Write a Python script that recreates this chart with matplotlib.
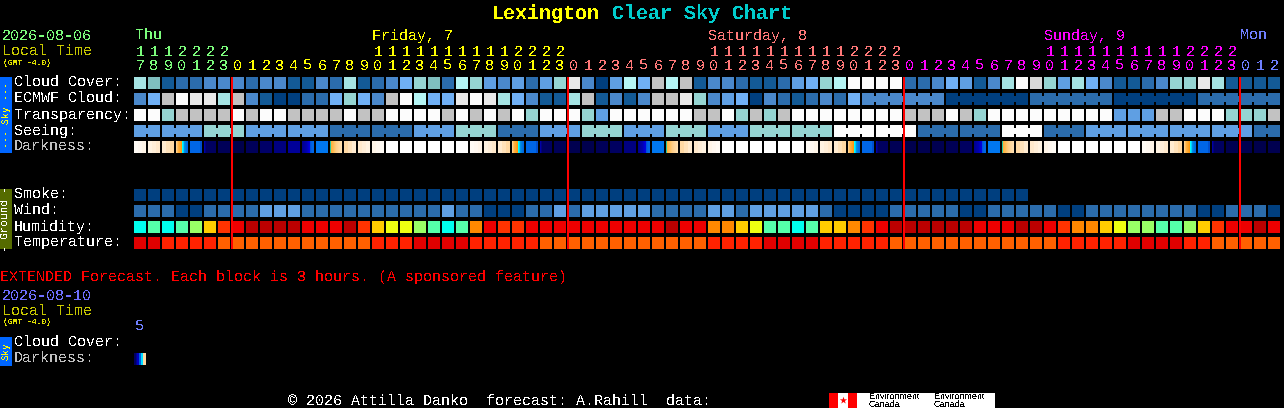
import matplotlib
matplotlib.use("Agg")
import matplotlib.pyplot as plt

plt.rcParams['text.antialiased'] = False
plt.rcParams['text.hinting'] = 'none'
plt.rcParams['font.family'] = ['Liberation Mono', 'DejaVu Sans Mono']

# ---------- data ----------
sky_palette = dict(a="#003F7F", b="#135A96", c="#2B6CAC", d="#4A88CB", e="#5F9FE3", f="#70B0F5",
                   g="#95D4D2", h="#7FBFBF", i="#A5E3E3", j="#B5F5F5", k="#C2C2C2", l="#D8D8D8",
                   m="#E9E9E9", n="#FCFCFC")
humidity_palette = dict(zip("012345678", ["#00FFEE", "#55FFAA", "#99FF66", "#EEFF11", "#FFCC00",
                                          "#FF8800", "#FF3300", "#EE0000", "#BB0000"]))
temperature_palette = dict(zip("012", ["#E00000", "#FF2200", "#FF6000"]))

cloud_cover = "ihbccdddcd" "dbbdcibcdf" "ghcjgedece" "gmdaejfkjk" "bddcbbcefg" "jnnnnccdfe" "bdinlgeifd" "bbcdggmibb" "bb"
ecmwf_cloud = "dfknmmikdb" "aaccfgfdkn" "jffmnmifdb" "bikbdbdkkm" "gdefadcbcd" "cfddddddaa" "aaaacccccc" "aaaaaacccc" "cc"
transparency = "nngkkkknkn" "nkkkknkknn" "nnknknkngn" "nngennnnnn" "kkngkgknnn" "nnnnnkkknk" "gnnnnnnnnn" "eeekknnngg" "gk"
seeing = "eeeeegggee" "eeeecccccc" "eeegggccce" "eegggeeegg" "geeegggggg" "nnnnnncccc" "ccnnncccee" "eeeeeeeeee" "cc"
smoke = "a" * 64
wind = "cccaacccce" "eecccccccc" "cceccaaacc" "eceeeeeccc" "ceeceeeeec" "aaaaccccca" "acccccaacc" "ccccccaacc" "ca"
humidity = "0101246788" "8877786433" "2101576677" "7777777787" "7554311014" "4567888888" "7778876554" "3221124677" "87"
temperature = "0011112222" "2222222111" "0000111112" "2222222222" "2111100001" "1111222222" "2222221111" "1000011222" "22"

cream_light = ["#FFFBF5", "#FFF8F0", "#FFF5E8"]
cream_mid = ["#FFF3E2", "#FFEED8", "#FFE9CC"]
cream_deep = ["#FFEBD0", "#FFE2BA", "#FFD9A4"]
white = ["#FFFFFF"]
dusk = ["#FFCF8A", "#FFBF60", "#FFB040", "#FFA830", "#FFA020", "#FF9810",
        "#00FFFF", "#00D0FF", "#0090E8", "#0080E0", "#0070E0", "#0066E0"]
dusk_blue = ["#0066E6"] * 10 + ["#0050D0"] * 2
dawn_blue = ["#0077F0"]
night_start = ["#0000A8", "#000080"] + ["#000060"] * 10
predawn = ["#000090", "#000098", "#0000A0", "#0000A8", "#0000B0", "#0000C0",
           "#0000D0", "#0000E0", "#0050E0", "#0060E0", "#0066E6", "#0066E6"]
dawn = ["#20C8A0", "#FFB040", "#FFB848", "#FFBC58", "#FFC468", "#FFCA78",
        "#FFCE88", "#FFD290", "#FFD698", "#FFD8A0", "#FFDCA8", "#FFE0B0"]
evening = [cream_light, cream_mid, cream_deep, dusk, dusk_blue, night_start]
morning = [predawn, dawn_blue, dawn, cream_deep[::-1], cream_mid[::-1], cream_light[::-1]]
night_1 = ["#000058", "#00004C", "#00005A", "#000068", "#000080", "#000099"]
night_2 = ["#000058", "#000050", "#00004E", "#000058", "#000060", "#000080"]
night_3 = ["#000055", "#00004E", "#000050", "#000050", "#000055", "#000060"]
night_4 = ["#000050", "#000050", "#00004C", "#000050"]
darkness = (evening + [[c] for c in night_1] + morning + [white] * 6
            + evening + [[c] for c in night_2] + morning + [white] * 6
            + evening + [[c] for c in night_3] + morning + [white] * 6
            + evening + [[c] for c in night_4])
extended_darkness = [["#000060", "#000060", "#000090", "#0000C0", "#0000C0", "#0060E0",
                      "#0060E0", "#00E0FF", "#00E0FF", "#FFD8A0", "#FFD8A0", "#FFD8A0"]]

hours = [17, 18, 19, 20, 21, 22, 23] + list(range(24)) * 3 + [0, 1, 2]
hour_colors = ["#7CFC7C"] * 7 + ["#FFFF00"] * 24 + ["#FF7878"] * 24 + ["#FF00FF"] * 24 + ["#6F7FFF"] * 3
day_labels = [(0, "Thu", "#7CFC7C", 1), (17, "Friday, 7", "#FFFF00", 0), (41, "Saturday, 8", "#FF7878", 0),
              (65, "Sunday, 9", "#FF00FF", 0), (79, "Mon", "#6F7FFF", 0)]
midnights = [7, 31, 55, 79]
row_labels = [("Cloud Cover:", 77, "#FFFFFF"), ("ECMWF Cloud:", 93, "#FFFFFF"), ("Transparency:", 109, "#FFFFFF"),
              ("Seeing:", 125, "#FFFFFF"), ("Darkness:", 141, "#C0C0C0"), ("Smoke:", 189, "#FFFFFF"),
              ("Wind:", 205, "#FFFFFF"), ("Humidity:", 221, "#FFFFFF"), ("Temperature:", 237, "#FFFFFF"),
              ("Cloud Cover:", 337, "#FFFFFF"), ("Darkness:", 353, "#C0C0C0")]

# ---------- layout ----------
X0, PITCH, BLOCK = 134, 14, 12
EM = 15 * 72 / 100          # 15 px type at 100 dpi
fig = plt.figure(figsize=(12.84, 4.08), dpi=100, facecolor="black")
ax = fig.add_axes([0, 0, 1, 1], facecolor="black")
ax.set_xlim(0, 1284)
ax.set_ylim(408, 0)
ax.axis("off")


def col_x(col):
    return X0 + PITCH * col


def blocks(values, palette, top):
    xs = [col_x(i) for i in range(len(values))]
    ax.bar(xs, [BLOCK] * len(values), bottom=top, width=BLOCK, align="edge",
           color=[palette[v] for v in values], linewidth=0, antialiased=False, zorder=2)


def connectors(values, palette, top, group_of, first=0):
    for i in range(first, len(values) - 1):
        if group_of(i) == group_of(i + 1):
            ax.bar(col_x(i) + BLOCK, 6, bottom=top + 3, width=PITCH - BLOCK, align="edge",
                   color=palette[values[i]], linewidth=0, antialiased=False, zorder=2)


def striped(cells, top):
    for i, stripes in enumerate(cells):
        w = BLOCK / len(stripes)
        xs = [col_x(i) + w * j for j in range(len(stripes))]
        ax.bar(xs, [BLOCK] * len(stripes), bottom=top, width=w, align="edge",
               color=stripes, linewidth=0, antialiased=False, zorder=2)


def label(x, y, s, color, size=EM, **kw):
    ax.text(x, y, s, color=color, fontsize=size, va="baseline", ha=kw.pop("ha", "left"), **kw)


# ---------- blocks ----------
blocks(cloud_cover, sky_palette, 77)
blocks(ecmwf_cloud, sky_palette, 93)
connectors(ecmwf_cloud, sky_palette, 93, lambda i: (i - 52) // 6, first=52)
blocks(transparency, sky_palette, 109)
blocks(seeing, sky_palette, 125)
connectors(seeing, sky_palette, 125, lambda i: (i + 1) // 3)
striped(darkness, 141)
blocks(smoke, sky_palette, 189)
blocks(wind, sky_palette, 205)
blocks(humidity, humidity_palette, 221)
blocks(temperature, temperature_palette, 237)
striped(extended_darkness, 353)

for m in midnights:
    ax.bar(col_x(m) - 1, 172, bottom=77, width=2, align="edge", color="#FF0000",
           linewidth=0, antialiased=False, zorder=3)

# ---------- side bars ----------
ax.bar(0, 76, bottom=77, width=12, align="edge", color="#0066FF", linewidth=0, antialiased=False)
ax.bar(0, 60, bottom=189, width=12, align="edge", color="#556B00", linewidth=0, antialiased=False)
ax.bar(0, 29, bottom=337, width=12, align="edge", color="#0066FF", linewidth=0, antialiased=False)
ax.text(6, 115, "--- Sky ---", color="#FFFF00", fontsize=10 * 72 / 100, rotation=90, ha="center", va="center")
ax.text(6, 219, "- Ground -", color="#FFFFFF", fontsize=11 * 72 / 100, rotation=90, ha="center", va="center")
ax.text(6, 351, "Sky", color="#FFFF00", fontsize=10 * 72 / 100, rotation=90, ha="center", va="center")

# ---------- text ----------
title_size = 20 * 72 / 100
label(492, 19, "Lexington", "#FFFF00", size=title_size, fontweight="bold")
label(612, 19, "Clear Sky Chart", "#00CCCC", size=title_size, fontweight="bold")

label(2, 40, "2026-08-06", "#7CFC7C")
label(2, 56, "Local Time", "#C8C800")
label(3, 65, "(GMT -4.0)", "#E0E000", size=8 * 72 / 100, fontweight="bold")
for col, s, c, dx in day_labels:
    label(col_x(col) + dx, 40, s, c)
for i, (h, c) in enumerate(zip(hours, hour_colors)):
    if h >= 10:
        label(col_x(i) + 6, 56, str(h // 10), c, ha="center")
    label(col_x(i) + 6, 70, str(h % 10), c, ha="center")
for s, top, c in row_labels:
    label(14, top + 10, s, c)

label(0, 281, "EXTENDED Forecast. Each block is 3 hours. (A sponsored feature)", "#FF0000")
label(2, 300, "2026-08-10", "#6F6FFF")
label(2, 316, "Local Time", "#C8C800")
label(3, 324, "(GMT -4.0)", "#E0E000", size=8 * 72 / 100, fontweight="bold")
label(col_x(0) + 6, 331, "5", "#6F7FFF", ha="center")
label(288, 406, "\u00a9 2026 Attilla Danko  forecast: A.Rahill  data:", "#FFFFFF")

# ---------- footer logo ----------
ax.bar(829, 15, bottom=393, width=166, align="edge", color="#FFFFFF", linewidth=0, antialiased=False)
ax.bar(829, 15, bottom=393, width=9, align="edge", color="#FF0000", linewidth=0, antialiased=False)
ax.bar(848, 15, bottom=393, width=9, align="edge", color="#FF0000", linewidth=0, antialiased=False)
ax.scatter([843], [400], marker="*", s=30, color="#FF0000", linewidths=0, zorder=3)
for x in (869, 934):
    ax.text(x, 399, "Environment", color="#000000", fontsize=9 * 72 / 100, family="Liberation Sans")
    ax.text(x, 407, "Canada", color="#000000", fontsize=9 * 72 / 100, family="Liberation Sans")

fig.savefig("out.png", dpi=100, facecolor="black")
